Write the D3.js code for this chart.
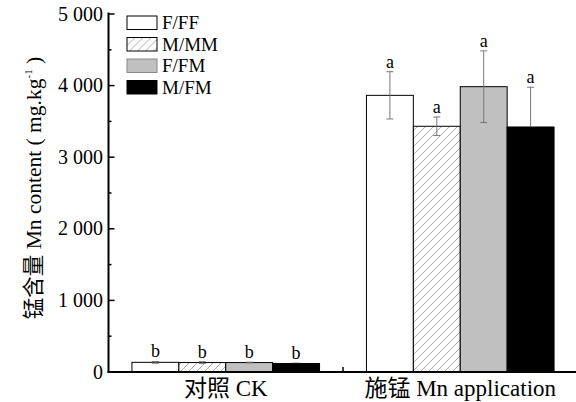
<!DOCTYPE html>
<html><head><meta charset="utf-8">
<script src="https://cdn.jsdelivr.net/npm/d3@7"></script>
<style>
body{margin:0;background:#fff;}
svg{display:block;}
</style></head>
<body>
<svg id="c" width="576" height="402" font-family="'Liberation Serif', 'DejaVu Serif', 'Noto Sans CJK SC', serif"></svg>
<script>
const groups = ["对照 CK", "施锰 Mn application"];
const series = ["F/FF", "M/MM", "F/FM", "M/FM"];
const ckValues = [128, 125, 125, 112];
const ckErrors = [12, 12, 6, 5];
const mnValues = [3857, 3425, 3978, 3415];
const mnErrors = [330, 130, 500, 555];
const ckLetters = ["b", "b", "b", "b"];
const mnLetters = ["a", "a", "a", "a"];
const yTickValues = [0, 1000, 2000, 3000, 4000, 5000];
const yMinorValues = [500, 1500, 2500, 3500, 4500];
const yLabel = "锰含量 Mn content ( mg.kg";

const data = [];
series.forEach((s, i) => {
  data.push({group: groups[0], series: s, value: ckValues[i], err: ckErrors[i], letter: ckLetters[i]});
  data.push({group: groups[1], series: s, value: mnValues[i], err: mnErrors[i], letter: mnLetters[i]});
});

const svg = d3.select("#c");
const defs = svg.append("defs");
const pat = defs.append("pattern").attr("id", "hatch").attr("patternUnits", "userSpaceOnUse")
  .attr("width", 8).attr("height", 8);
pat.append("rect").attr("width", 8).attr("height", 8).attr("fill", "#fff");
pat.append("path").attr("d", "M-2,2 L2,-2 M0,8 L8,0 M6,10 L10,6").attr("stroke", "#999").attr("stroke-width", 0.8);

const fills = {"F/FF": "#fff", "M/MM": "url(#hatch)", "F/FM": "#c0c0c0", "M/FM": "#000"};

const y = d3.scaleLinear().domain([0, 5000]).range([371.5, 13.5]);
const x0 = d3.scaleBand().domain(groups).range([108.5, 577.5]).paddingInner(0).paddingOuter(0);
const x1 = d3.scaleBand().domain(series).range([x0.bandwidth() * 0.1, x0.bandwidth() * 0.9]).padding(0);

const fmt = v => d3.format(",")(v).replace(/,/g, " ");

// bars
svg.append("g").selectAll("rect").data(data).join("rect")
  .attr("x", d => x0(d.group) + x1(d.series))
  .attr("y", d => y(d.value))
  .attr("width", x1.bandwidth())
  .attr("height", d => y(0) - y(d.value))
  .attr("fill", d => fills[d.series])
  .attr("stroke", "#000").attr("stroke-width", 1);

// error bars
const eb = svg.append("g").attr("stroke-width", 1);
data.forEach(d => {
  const cx = x0(d.group) + x1(d.series) + x1.bandwidth() / 2;
  const y1 = y(d.value + d.err), y0 = y(d.value), y2 = y(d.value - d.err);
  const inner = d.series === "M/FM" ? "#000" : "#777";
  eb.append("line").attr("x1", cx).attr("x2", cx).attr("y1", y1).attr("y2", y0).attr("stroke", "#777");
  eb.append("line").attr("x1", cx).attr("x2", cx).attr("y1", y0).attr("y2", y2).attr("stroke", inner);
  eb.append("line").attr("x1", cx - 3.5).attr("x2", cx + 3.5).attr("y1", y1).attr("y2", y1).attr("stroke", "#777");
  eb.append("line").attr("x1", cx - 3.5).attr("x2", cx + 3.5).attr("y1", y2).attr("y2", y2).attr("stroke", inner);
  svg.append("text").attr("x", cx).attr("y", y1 - 4).attr("text-anchor", "middle")
    .attr("font-size", 18).text(d.letter);
});

// y axis
const yAxis = d3.axisRight(y).tickValues(yTickValues).tickSize(6).tickFormat("");
const gy = svg.append("g").attr("transform", "translate(108.5,0)").call(yAxis);
gy.select(".domain").remove();
gy.selectAll(".tick line").attr("stroke", "#000").attr("stroke-width", 1.5);
const gym = svg.append("g").attr("transform", "translate(108.5,0)")
  .call(d3.axisRight(y).tickValues(yMinorValues).tickSize(3).tickFormat(""));
gym.select(".domain").remove();
gym.selectAll(".tick line").attr("stroke", "#000").attr("stroke-width", 1.5);
svg.append("g").selectAll("text").data(yTickValues).join("text")
  .attr("x", 103).attr("y", d => y(d)).attr("dy", "0.35em").attr("text-anchor", "end")
  .attr("font-size", 20).text(fmt);
svg.append("line").attr("x1", 108.5).attr("x2", 108.5).attr("y1", 12.5).attr("y2", 372.5)
  .attr("stroke", "#000").attr("stroke-width", 2);

// x axis
svg.append("line").attr("x1", 107.5).attr("x2", 577).attr("y1", 372).attr("y2", 372)
  .attr("stroke", "#000").attr("stroke-width", 2);
svg.append("line").attr("x1", x0(groups[1])).attr("x2", x0(groups[1])).attr("y1", 372).attr("y2", 367)
  .attr("stroke", "#000").attr("stroke-width", 1.5);
svg.append("g").selectAll("text").data(groups).join("text")
  .attr("x", d => x0(d) + x0.bandwidth() / 2).attr("y", 396).attr("text-anchor", "middle")
  .attr("font-size", 23).text(d => d);

// y label
const yl = svg.append("text").attr("transform", "translate(41,188) rotate(-90)")
  .attr("text-anchor", "middle").attr("font-size", 21.5);
yl.append("tspan").text(yLabel);
yl.append("tspan").attr("font-size", 11).attr("dy", -9).text("-1");
yl.append("tspan").attr("dy", 9).text(" )");

// legend
const lg = svg.append("g").selectAll("g").data(series).join("g")
  .attr("transform", (d, i) => `translate(127,${16 + i * 21.5})`);
lg.append("rect").attr("width", 30).attr("height", 13.5).attr("fill", d => fills[d])
  .attr("stroke", d => d === "F/FM" ? "#888" : "#000").attr("stroke-width", 1);
lg.append("text").attr("x", 35).attr("y", 13).attr("font-size", 19).text(d => d);
</script>
</body></html>
